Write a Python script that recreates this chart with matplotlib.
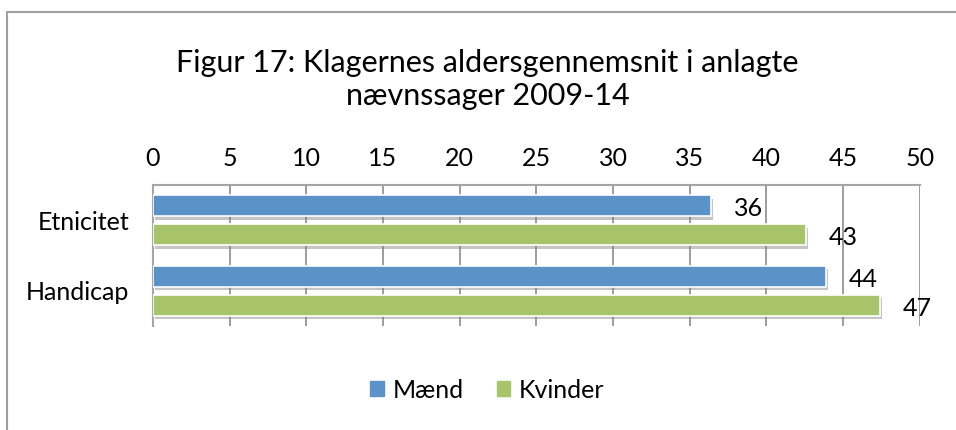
import matplotlib.pyplot as plt
import matplotlib.patheffects as pe
from matplotlib.lines import Line2D
from matplotlib.patches import Patch
import numpy as np

plt.rcParams['font.family'] = ['Lato', 'DejaVu Sans']

categories = ['Etnicitet', 'Handicap']
maend = [36.4, 43.9]
kvinder = [42.6, 47.4]
labels_maend = ['36', '44']
labels_kvinder = ['43', '47']
ticks = [0, 5, 10, 15, 20, 25, 30, 35, 40, 45, 50]

blue = '#5b93c8'
green = '#a8c46a'

fig = plt.figure(figsize=(9.56, 4.30), dpi=100)
ax = fig.add_axes([0.160, 0.242, 0.802, 0.328])

y = np.arange(len(categories))
h = 0.30
shadow = [pe.SimplePatchShadow(offset=(1.5, -2.5), shadow_rgbFace='#808080', alpha=0.45), pe.Normal()]
b1 = ax.barh(y - 0.205, maend, height=h, color=blue, edgecolor='white', linewidth=1.2, zorder=3)
b2 = ax.barh(y + 0.205, kvinder, height=h, color=green, edgecolor='white', linewidth=1.2, zorder=3)
for bar in list(b1) + list(b2):
    bar.set_path_effects(shadow)

# data labels
for i in range(len(categories)):
    ax.text(maend[i] + 1.5, y[i] - 0.16, labels_maend[i], fontsize=18, va='center', ha='left', zorder=4)
    ax.text(kvinder[i] + 1.5, y[i] + 0.25, labels_kvinder[i], fontsize=18, va='center', ha='left', zorder=4)

ax.set_xlim(0, 50)
ax.set_ylim(1.5, -0.5)
ax.set_xticks(ticks)
ax.xaxis.tick_top()
ax.tick_params(axis='x', length=0, labelsize=18, pad=11)
ax.set_yticks(y)
ax.set_yticklabels(categories)
ax.tick_params(axis='y', length=0, labelsize=18, pad=17)
ax.grid(axis='x', color='#8c8c8c', linewidth=1.2, zorder=0)
ax.set_axisbelow(True)
for s in ['right', 'bottom']:
    ax.spines[s].set_visible(False)
ax.spines['top'].set_color('#a6a6a6')
ax.spines['left'].set_color('#a6a6a6')
ax.spines['top'].set_linewidth(1.5)
ax.spines['left'].set_linewidth(1.5)

fig.text(0.51, 0.815, 'Figur 17: Klagernes aldersgennemsnit i anlagte\nnævnssager 2009-14',
         ha='center', va='center', fontsize=22, linespacing=1.2)

handles = [Patch(color=blue, label='Mænd'), Patch(color=green, label='Kvinder')]
fig.legend(handles=handles, loc='center', bbox_to_anchor=(0.51, 0.093), ncol=2, frameon=False,
           fontsize=18, handlelength=0.55, handleheight=0.55, handletextpad=0.35, columnspacing=1.3)

# outer chart frame
fig.add_artist(Line2D([7 / 956, 7 / 956], [0, 1 - 12 / 430], color='#a0a0a0', linewidth=1.5))
fig.add_artist(Line2D([7 / 956, 1], [1 - 12 / 430, 1 - 12 / 430], color='#a0a0a0', linewidth=1.5))

fig.savefig('out.png', dpi=100)
